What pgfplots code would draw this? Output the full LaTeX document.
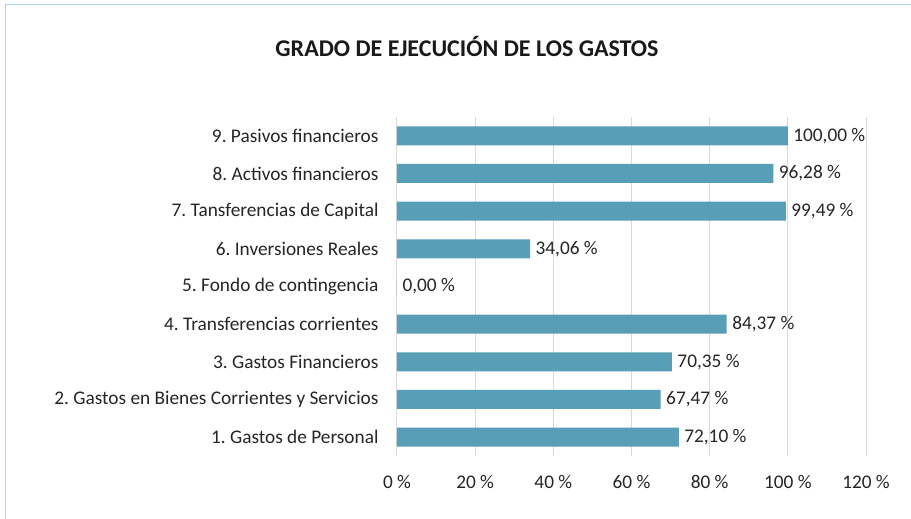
\documentclass[border=0pt]{standalone}
\usepackage{pgfplots}
\pgfplotsset{compat=1.18}
\usepackage{fontspec}
\setmainfont{Carlito}
\frenchspacing
\definecolor{barcol}{RGB}{87,158,182}
\definecolor{gridcol}{RGB}{217,217,217}
\definecolor{framecol}{RGB}{170,212,230}
\begin{document}
\begin{tikzpicture}
\useasboundingbox (0,0) rectangle (911pt,519pt);
\fill[white] (0,0) rectangle (911pt,519pt);
\draw[framecol, line width=1pt] (5pt,0) -- (5pt,514pt) -- (911pt,514pt);
\node[font=\fontsize{24}{26}\selectfont\bfseries, text=black!90] at (467pt,472pt) {GRADO DE EJECUCIÓN DE LOS GASTOS};
\begin{axis}[
    at={(397pt,63pt)}, anchor=south west,
    scale only axis, width=469pt, height=339pt,
    xbar, bar width=19pt,
    xmin=0, xmax=120, ymin=0.5, ymax=9.5,
    xtick={0,20,...,120},
    ytick={1,...,9},
    yticklabels={1. Gastos de Personal, 2. Gastos en Bienes Corrientes y Servicios, 3. Gastos Financieros, 4. Transferencias corrientes, 5. Fondo de contingencia, 6. Inversiones Reales, 7. Tansferencias de Capital, 8. Activos financieros, 9. Pasivos financieros},
    xticklabel={\pgfmathprintnumber{\tick}~\%},
    /pgf/number format/assume math mode=true,
    xmajorgrids, grid style={gridcol, line width=1pt},
    axis line style={draw=none},
    major tick length=0pt,
    tick label style={font=\fontsize{19.3}{22}\selectfont, text=black!85},
    yticklabel style={xshift=-15pt},
    xticklabel style={yshift=-16pt},
    nodes near coords={\pgfmathprintnumber[fixed,fixed zerofill,precision=2,use comma]{\pgfplotspointmeta}~\%},
    nodes near coords align={horizontal},
    every node near coord/.append style={font=\fontsize{19.3}{22}\selectfont, text=black!85, /pgf/number format/assume math mode=true, xshift=2pt},
]
\addplot[fill=barcol, draw=none] coordinates {
    (72.10,1) (67.47,2) (70.35,3) (84.37,4) (0.00,5) (34.06,6) (99.49,7) (96.28,8) (100.00,9)
};
\end{axis}
\end{tikzpicture}
\end{document}
